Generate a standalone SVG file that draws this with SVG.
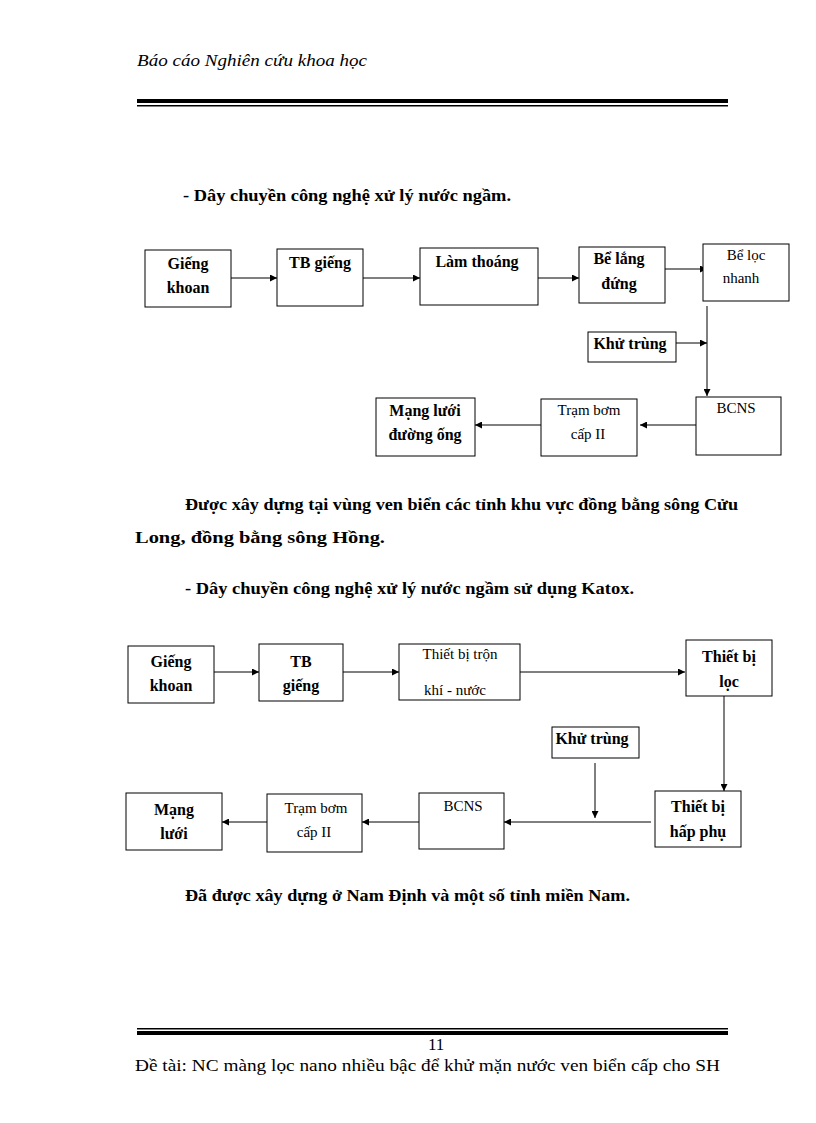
<svg xmlns="http://www.w3.org/2000/svg" width="816" height="1123" viewBox="0 0 816 1123">
<style>
text{font-family:"Liberation Serif","Times New Roman",serif;fill:#000}
.b{font-size:16px;font-weight:bold}
.p{font-size:17px;font-weight:bold}
.t{font-size:15px}
.n rect{fill:#fff;stroke:#000;stroke-width:1}
.c line{stroke:#000;stroke-width:1;marker-end:url(#a)}
.m{text-anchor:middle}
</style>
<defs><marker id="a" viewBox="0 0 10 10" refX="10" refY="5" markerWidth="7" markerHeight="7" orient="auto" markerUnits="userSpaceOnUse"><path d="M0,0L10,5L0,10z" fill="#000"/></marker></defs>
<rect width="816" height="1123" fill="#fff"/>
<text x="137" y="66" style="font-size:17.5px;font-style:italic" textLength="230" lengthAdjust="spacingAndGlyphs">Báo cáo Nghiên cứu khoa học</text>
<rect x="137" y="99" width="591" height="4" fill="#000"/><rect x="137" y="105" width="591" height="1.5" fill="#000"/>
<text x="183" y="201" class="p" textLength="328" lengthAdjust="spacingAndGlyphs">- Dây chuyền công nghệ xử lý nước ngầm.</text>
<g class="c">
<line x1="231" y1="278" x2="277" y2="278"/>
<line x1="363" y1="278" x2="420" y2="278"/>
<line x1="538" y1="278" x2="579" y2="278"/>
<line x1="665" y1="269" x2="707" y2="269"/>
<line x1="707" y1="306" x2="707" y2="396"/>
<line x1="676" y1="343" x2="707" y2="343"/>
<line x1="698" y1="425" x2="640" y2="425"/>
<line x1="541" y1="425" x2="475" y2="425"/>
</g>
<g class="n">
<g id="n1"><rect x="145" y="250" width="86" height="57"/><text x="188" y="269" class="b m">Giếng</text><text x="188" y="293" class="b m">khoan</text></g>
<g id="n2"><rect x="277" y="249" width="86" height="57"/><text x="320" y="268" class="b m">TB giếng</text></g>
<g id="n3"><rect x="420" y="248" width="118" height="57"/><text x="477" y="267" class="b m">Làm thoáng</text></g>
<g id="n4"><rect x="579" y="247" width="86" height="56"/><text x="619" y="264" class="b m">Bể lắng</text><text x="619" y="289" class="b m">đứng</text></g>
<g id="n5"><rect x="703" y="244" width="86" height="57"/><text x="746" y="260" class="t m">Bể lọc</text><text x="741" y="283" class="t m">nhanh</text></g>
<g id="n6"><rect x="588" y="332" width="88" height="30"/><text x="630" y="349" class="b m">Khử trùng</text></g>
<g id="n7"><rect x="696" y="397" width="85" height="58"/><text x="736" y="413" class="t m">BCNS</text></g>
<g id="n8"><rect x="541" y="399" width="96" height="57"/><text x="589" y="415" class="t m">Trạm bơm</text><text x="588" y="439" class="t m">cấp II</text></g>
<g id="n9"><rect x="376" y="398" width="99" height="58"/><text x="425" y="416" class="b m">Mạng lưới</text><text x="425" y="440" class="b m">đường ống</text></g>
</g>
<text x="185" y="510" class="p" textLength="553" lengthAdjust="spacingAndGlyphs">Được xây dựng tại vùng ven biển các tỉnh khu vực đồng bằng sông Cửu</text>
<text x="135" y="543" class="p" textLength="250" lengthAdjust="spacingAndGlyphs">Long, đồng bằng sông Hồng.</text>
<text x="185" y="594" class="p" textLength="449" lengthAdjust="spacingAndGlyphs">-  Dây chuyền công nghệ xử lý nước ngầm sử dụng Katox.</text>
<g class="c">
<line x1="214" y1="672" x2="259" y2="672"/>
<line x1="343" y1="672" x2="399" y2="672"/>
<line x1="516" y1="672" x2="685" y2="672"/>
<line x1="724" y1="696" x2="724" y2="791"/>
<line x1="595" y1="763" x2="595" y2="818"/>
<line x1="651" y1="822" x2="504" y2="822"/>
<line x1="419" y1="822" x2="362" y2="822"/>
<line x1="267" y1="822" x2="222" y2="822"/>
</g>
<g class="n">
<g id="m1"><rect x="128" y="646" width="86" height="57"/><text x="171" y="667" class="b m">Giếng</text><text x="171" y="691" class="b m">khoan</text></g>
<g id="m2"><rect x="259" y="644" width="84" height="57"/><text x="301" y="667" class="b m">TB</text><text x="301" y="691" class="b m">giếng</text></g>
<g id="m3"><rect x="399" y="644" width="121" height="56"/><text x="460" y="659" class="t m">Thiết bị trộn</text><text x="455" y="695" class="t m">khí  - nước</text></g>
<g id="m4"><rect x="686" y="640" width="86" height="56"/><text x="729" y="662" class="b m">Thiết bị</text><text x="729" y="687" class="b m">lọc</text></g>
<g id="m5"><rect x="552" y="727" width="87" height="31"/><text x="592" y="744" class="b m">Khử trùng</text></g>
<g id="m6"><rect x="655" y="791" width="86" height="56"/><text x="698" y="812" class="b m">Thiết bị</text><text x="698" y="837" class="b m">hấp phụ</text></g>
<g id="m7"><rect x="419" y="793" width="85" height="56"/><text x="463" y="811" class="t m">BCNS</text></g>
<g id="m8"><rect x="267" y="794" width="95" height="58"/><text x="316" y="813" class="t m">Trạm bơm</text><text x="314" y="837" class="t m">cấp II</text></g>
<g id="m9"><rect x="126" y="793" width="96" height="57"/><text x="174" y="815" class="b m">Mạng</text><text x="174" y="839" class="b m">lưới</text></g>
</g>
<text x="185" y="901" class="p" textLength="445" lengthAdjust="spacingAndGlyphs">Đã được xây dựng ở Nam Định và một số tỉnh miền Nam.</text>
<rect x="137" y="1028" width="591" height="1.5" fill="#000"/><rect x="137" y="1031" width="591" height="4" fill="#000"/>
<text x="428" y="1050" style="font-size:17px">11</text>
<text x="135" y="1071" style="font-size:17px" textLength="585" lengthAdjust="spacingAndGlyphs">Đề tài: NC màng lọc nano nhiều  bậc để khử mặn nước ven biển cấp cho SH</text>
</svg>
